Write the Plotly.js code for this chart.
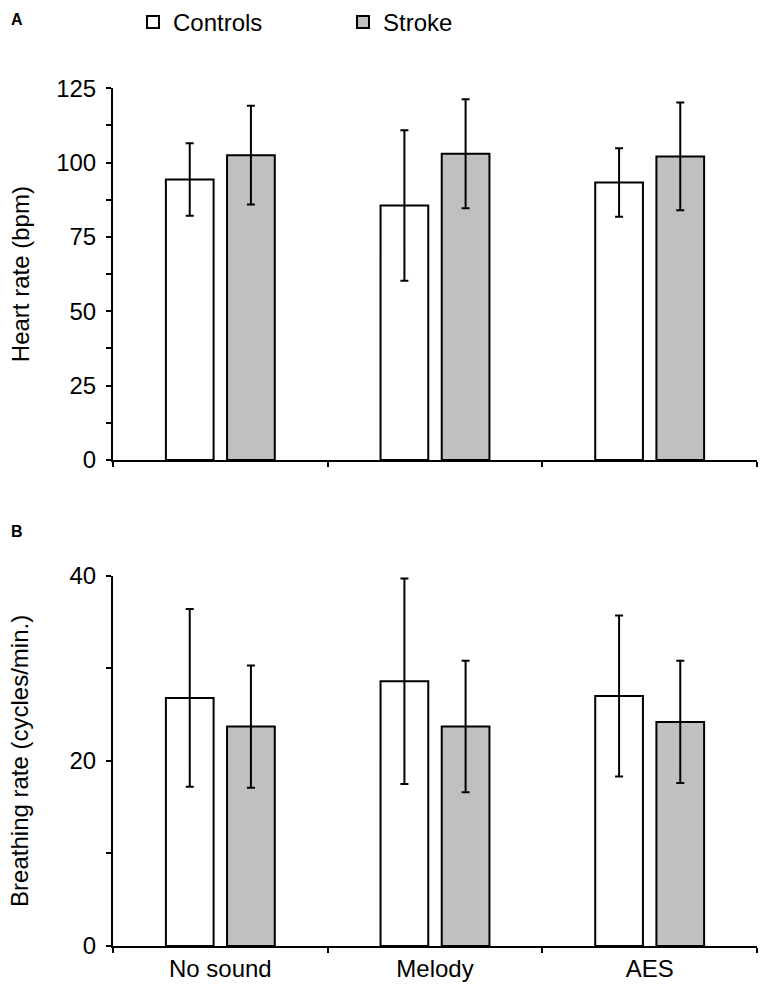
<!DOCTYPE html>
<html>
<head>
<meta charset="utf-8">
<script src="https://cdn.plot.ly/plotly-3.0.1.min.js"></script>
<style>
html,body{margin:0;padding:0;background:#fff;}
#chart{width:765px;height:995px;}
</style>
</head>
<body>
<div id="chart"></div>
<script>
// ---- Data ----
const categories = ['No sound', 'Melody', 'AES'];
const seriesNames = ['Controls', 'Stroke'];

// Panel A: heart rate (bpm)
const heartControls = [94.3, 85.6, 93.3];
const heartControlsErr = [12.2, 25.3, 11.5];
const heartStroke = [102.5, 103.0, 102.1];
const heartStrokeErr = [16.6, 18.3, 18.1];

// Panel B: breathing rate (cycles/min.)
const breathControls = [26.8, 28.6, 27.0];
const breathControlsErr = [9.6, 11.1, 8.7];
const breathStroke = [23.7, 23.7, 24.2];
const breathStrokeErr = [6.6, 7.1, 6.6];

const yTicksA = [0, 25, 50, 75, 100, 125];
const yTicksB = [0, 20, 40];

const FONT = '"Liberation Sans", Arial, Helvetica, sans-serif';
const FS = 24;
const fills = ['#ffffff', '#c0c0c0'];

function barTrace(name, y, err, fill, xa, ya, showleg) {
  return {
    type: 'bar', name: name, x: categories, y: y,
    xaxis: xa, yaxis: ya, showlegend: showleg,
    marker: {color: fill, line: {color: '#000', width: 2}},
    error_y: {type: 'data', array: err, visible: true, color: '#000', thickness: 2, width: 4},
    hoverinfo: 'skip'
  };
}

const data = [
  barTrace(seriesNames[0], heartControls, heartControlsErr, fills[0], 'x', 'y', true),
  barTrace(seriesNames[1], heartStroke, heartStrokeErr, fills[1], 'x', 'y', true),
  barTrace(seriesNames[0], breathControls, breathControlsErr, fills[0], 'x2', 'y2', false),
  barTrace(seriesNames[1], breathStroke, breathStrokeErr, fills[1], 'x2', 'y2', false)
];

const xBase = {
  domain: [113/765, 757/765],
  showline: true, linecolor: '#000', linewidth: 2,
  ticks: 'outside', tickson: 'boundaries', ticklen: 5, tickwidth: 2, tickcolor: '#000',
  showgrid: false, zeroline: false, fixedrange: true,
  tickfont: {family: FONT, size: FS, color: '#000'}
};
const yBase = {
  showline: true, linecolor: '#000', linewidth: 2,
  ticks: 'outside', ticklen: 5, tickwidth: 2, tickcolor: '#000',
  showgrid: false, zeroline: false, fixedrange: true,
  tickfont: {family: FONT, size: FS, color: '#000'},
  ticklabelstandoff: 5
};

const layout = {
  width: 765, height: 995,
  margin: {l: 0, r: 0, t: 0, b: 0, autoexpand: false},
  paper_bgcolor: '#fff', plot_bgcolor: '#fff',
  font: {family: FONT, size: FS, color: '#000'},
  barmode: 'group', bargap: 0.43, bargroupgap: 0.22,
  showlegend: true,
  legend: {
    orientation: 'h', xref: 'paper', yref: 'paper',
    x: 133/765, xanchor: 'left', y: 1, yanchor: 'top',
    font: {family: FONT, size: FS, color: '#000'},
    entrywidthmode: 'pixels', entrywidth: 165,
    itemclick: false, itemdoubleclick: false, bgcolor: 'rgba(0,0,0,0)'
  },
  xaxis: Object.assign({}, xBase, {anchor: 'y', showticklabels: false}),
  xaxis2: Object.assign({}, xBase, {anchor: 'y2'}),
  yaxis: Object.assign({}, yBase, {
    domain: [1 - 460/995, 1 - 88.3/995], anchor: 'x',
    range: [0, 125], tickvals: yTicksA,
    minor: {dtick: 12.5, ticks: 'outside', ticklen: 5, tickwidth: 2, tickcolor: '#000', showgrid: false},
    title: {text: 'Heart rate (bpm)', font: {family: FONT, size: FS, color: '#000'}, standoff: 20}
  }),
  yaxis2: Object.assign({}, yBase, {
    domain: [1 - 946/995, 1 - 575.7/995], anchor: 'x2',
    range: [0, 40], tickvals: yTicksB,
    minor: {dtick: 10, ticks: 'outside', ticklen: 5, tickwidth: 2, tickcolor: '#000', showgrid: false},
    title: {text: 'Breathing rate (cycles/min.)', font: {family: FONT, size: FS, color: '#000'}, standoff: 34}
  }),
  annotations: [
    {text: '<b>A</b>', xref: 'paper', yref: 'paper', x: 17/765, y: 1 - 20/995, showarrow: false,
     font: {family: FONT, size: 16, color: '#000'}, xanchor: 'center', yanchor: 'middle'},
    {text: '<b>B</b>', xref: 'paper', yref: 'paper', x: 17/765, y: 1 - 531/995, showarrow: false,
     font: {family: FONT, size: 16, color: '#000'}, xanchor: 'center', yanchor: 'middle'}
  ]
};

Plotly.newPlot('chart', data, layout, {displayModeBar: false, staticPlot: true});
</script>
</body>
</html>
